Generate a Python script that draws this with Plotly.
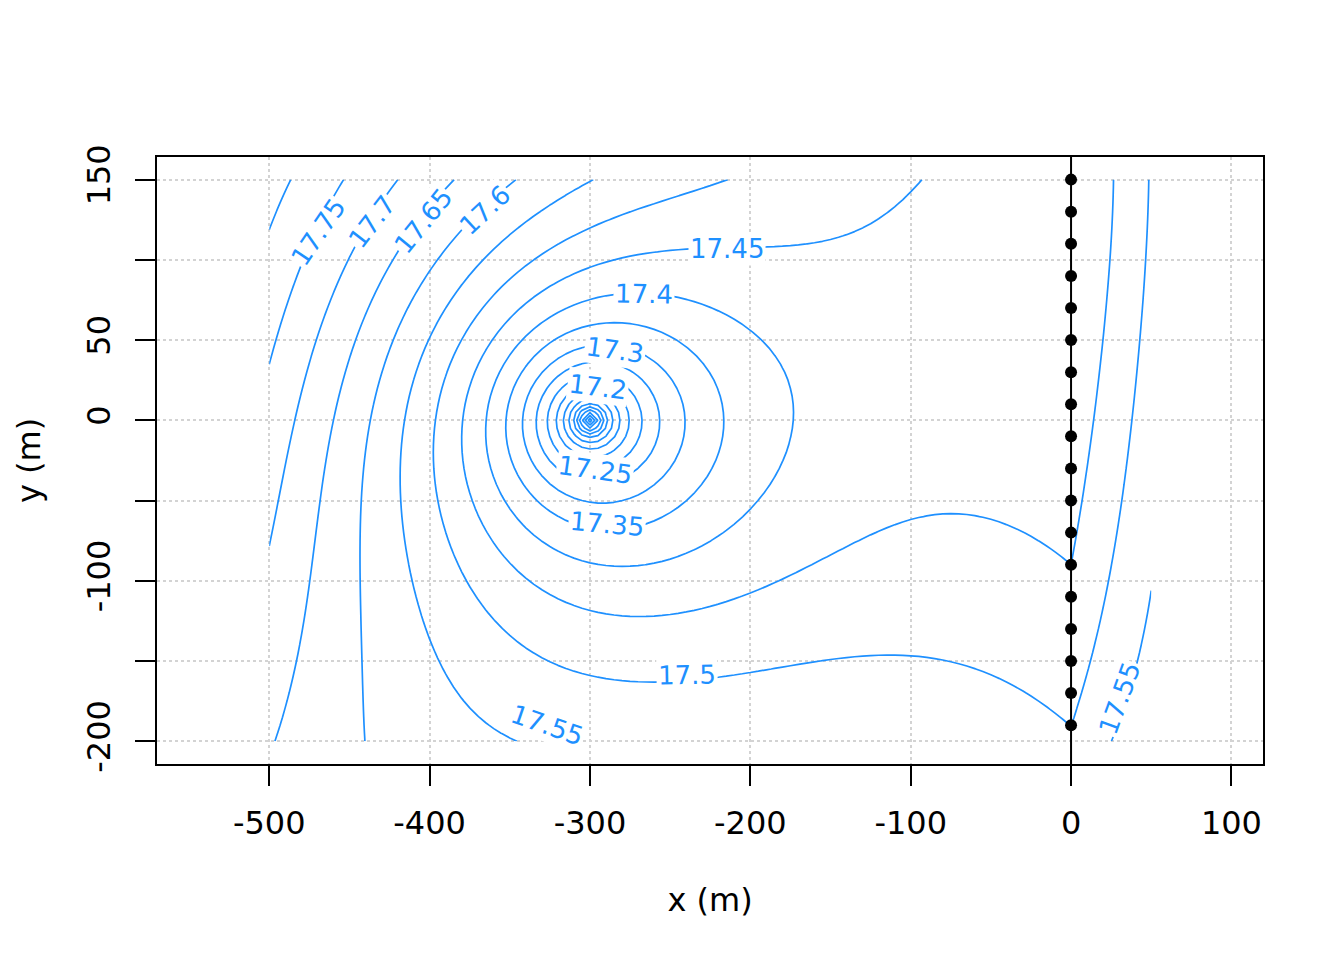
import numpy as np
import plotly.graph_objects as go

# ---- model geometry ----
well_x, well_y = -300.0, 0.0          # pumping well
river_x = 0.0                          # river line (black line with nodes)
river_nodes_y = [-190, -170, -150, -130, -110, -90, -70, -50, -30, -10,
                 10, 30, 50, 70, 90, 110, 130, 150]

# ---- contour points: x (m), y (m), head (m) ----
ctrl_x = [
    -500, -487,
    -500, -483, -469.4, -452.6,
    -419.4, -436.1, -448.5, -470, -491.2, -500,
    -385, -403.9, -420.4, -441, -463.5, -472.5, -483, -487, -495, -500,
    -346.6, -365.4, -382, -399.7, -424.6, -430.7, -433.3, -437, -437, -441, -447, -456,
    -301, -372.7, -416.2, -417, -408, -401.8, -353, -327, -298,
    -219, -262.5, -343.6, -397.6, -397.7, -377, -300, -262.5, -239.5, -216, -131, -93.4, -43.3, 0,
    19.3, 29.3, 36.8, 44.3, 48.8,
    -87.2, -100, -118.5, -156, -186, -214.5, -243.7, -268.7, -308.3, -381, -380, -345.7, -300, -268.7,
    -200, -143.5, -99.7, -75.9, -43.3, 0, 11.8, 14.3, 19.3, 24.3,
    -266.3, -300, -243.7, -193.6, -168.5, -285, -300, -366, -1, -1, 0,
    -212.4, -300, -289.6, -354.4,
    -236.3, -284.4, -300, -300, -344.6,
    -252.3, -296.9, -336.3, -300,
    -263.7, -294.8, -329,
    -272, -322.8,
    21.8, 30.6, 38, 46, 50.6,
    -500, -500, -50, 50, -40, -50, -100, 0, 0,
]
ctrl_y = [
    126, 150,
    51.6, 93.6, 117.5, 150,
    150, 123.8, 104, 50, -18.5, -75,
    150, 124.4, 101.9, 50, -18.5, -112, -151.4, -164, -178, -187,
    150, 131.1, 114, 93.6, 43.8, 23, -18.5, -101.6, -153.6, -176.4, -190, -200,
    150, 93.6, 0, -18.5, -93.3, -112, -179.5, -189.9, -200,
    150, 135, 93.6, 0, -18.5, -93.3, -150.8, -158, -158.8, -158, -153.5, -155.6, -174.4, -190,
    -151.5, -101.5, -18, 50, 150,
    150, 139, 126.7, 110, 106.5, 106.7, 107, 105, 93.6, 0, -18.5, -93.3, -116.5, -119.8,
    -108, -80.6, -67.5, -64.4, -73.3, -91.5, -18, 0, 50, 150,
    78.5, 79.8, 77.7, 52, 2, -91, -91.5, 0, 150, 135, 115,
    0, 63.8, -64.6, 0,
    0, 43.7, 44.5, -54.5, 0,
    0, -30.8, 0, 33,
    0, 20.8, 0,
    0, 0,
    -193, -173.3, -145, -109, -88,
    150, -200, -200, -200, 0, 150, 50, 40, -30,
]
ctrl_h = (
    [17.8] * 2 + [17.75] * 4 + [17.7] * 6 + [17.65] * 10 + [17.6] * 12 +
    [17.55] * 9 + [17.5] * 19 + [17.45] * 24 + [17.4] * 11 + [17.35] * 4 +
    [17.3] * 5 + [17.25] * 4 + [17.2] * 3 + [17.15] * 2 + [17.55] * 5 +
    [17.82, 17.675, 17.52, 17.575, 17.432, 17.43, 17.425, 17.418, 17.435]
)

# ---- contour labels (text, position, angle) ----
label_text = ["17.75", "17.7", "17.65", "17.6", "17.45", "17.4", "17.3", "17.2",
              "17.25", "17.35", "17.5", "17.55", "17.55"]
label_x = [-469.4, -436.1, -403.9, -365.4, -214.5, -266.3, -284.4, -294.8,
           -296.9, -289.6, -239.5, -327.0, 30.6]
label_y = [117.5, 123.8, 124.4, 131.1, 106.7, 78.5, 43.7, 20.8,
           -30.8, -64.6, -158.8, -189.9, -173.3]
label_angle = [-56, -52, -51, -43, 0, 1, 8, 7, 8, 5, -1, 19, -70]

# ---- grid extents of the head field ----
grid_x0, grid_x1, grid_y0, grid_y1, grid_step = -500.0, 50.0, -200.0, 150.0, 5.0
well_radius = 2.5


def features(x, y):
    u = (x - well_x) / 100.0
    v = (y - well_y) / 100.0
    r = np.maximum(np.hypot(x - well_x, y - well_y), well_radius)
    xp = np.maximum(x - river_x, 0.0) / 100.0
    one = np.ones_like(u)
    return np.stack([one, u, v, u * u, u * v, v * v,
                     u ** 3, u * u * v, u * v * v, v ** 3,
                     u ** 4, u ** 3 * v, u * u * v * v, u * v ** 3, v ** 4,
                     np.log(r), xp, xp * v, xp * v * v, xp * xp, xp * xp * v], axis=-1)


cx = np.array(ctrl_x, float)
cy = np.array(ctrl_y, float)
ch = np.array(ctrl_h, float)
# points on/right of the river, in the lower-left corner and along the top edge count more
cw = np.where((cx >= river_x - 1) | ((cx < -430) & (cy < -140)) |
              ((np.abs(ch - 17.45) < 1e-6) & (cy > 100) & (cx > -200)) |
              (cy >= 130), 3.0, 1.0)
coef, *_ = np.linalg.lstsq(features(cx, cy) * cw[:, None], ch * cw, rcond=None)

gx = np.arange(grid_x0, grid_x1 + 0.5 * grid_step, grid_step)
gy = np.arange(grid_y0, grid_y1 + 0.5 * grid_step, grid_step)
GX, GY = np.meshgrid(gx, gy)
Z = features(GX, GY) @ coef

blue = "#1E90FF"
font_family = "DejaVu Sans, Verdana, sans-serif"

fig = go.Figure()
fig.add_trace(go.Contour(
    x=gx, y=gy, z=Z,
    contours=dict(start=16.0, end=17.9, size=0.05, coloring="lines", showlabels=False),
    colorscale=[[0, blue], [1, blue]],
    line=dict(width=1.7, smoothing=0),
    showscale=False, hoverinfo="skip",
))
fig.add_trace(go.Scatter(
    x=[river_x] * len(river_nodes_y), y=river_nodes_y, mode="markers",
    marker=dict(color="black", size=12), hoverinfo="skip", showlegend=False,
))
fig.add_shape(type="line", xref="x", yref="paper", x0=river_x, x1=river_x, y0=0, y1=1,
              line=dict(color="black", width=2), layer="above")

for t, lx, ly, ang in zip(label_text, label_x, label_y, label_angle):
    fig.add_annotation(x=lx, y=ly, text=t, textangle=ang, showarrow=False,
                       font=dict(family=font_family, size=26, color=blue),
                       bgcolor="white", borderpad=1)

y_ticks = [-200, -150, -100, -50, 0, 50, 100, 150]
y_ticktext = ["-200", "", "-100", "", "0", "50", "", "150"]
x_ticks = [-500, -400, -300, -200, -100, 0, 100]

axis_common = dict(
    showline=True, mirror=True, linecolor="black", linewidth=1.5,
    ticks="outside", ticklen=20, tickwidth=1.5, tickcolor="black",
    showgrid=True, gridcolor="#D3D3D3", griddash="dot", gridwidth=1.5,
    zeroline=False, tickfont=dict(family=font_family, size=32, color="black"),
)

fig.update_layout(
    width=1344, height=960,
    margin=dict(l=157, r=81, t=157, b=196),
    paper_bgcolor="white", plot_bgcolor="white",
    showlegend=False,
    font=dict(family=font_family, size=32, color="black"),
    xaxis=dict(range=[-570, 119.7], tickvals=x_ticks,
               ticktext=[str(v) for v in x_ticks], ticklabelstandoff=10,
               title=dict(text="x (m)", standoff=47,
                          font=dict(family=font_family, size=32, color="black")),
               **axis_common),
    yaxis=dict(range=[-214.2, 164.1], tickvals=y_ticks, ticktext=y_ticktext,
               tickangle=-90, ticklabelstandoff=12,
               title=dict(text="y (m)", standoff=30,
                          font=dict(family=font_family, size=32, color="black")),
               **axis_common),
)

fig.write_html("out.html")
